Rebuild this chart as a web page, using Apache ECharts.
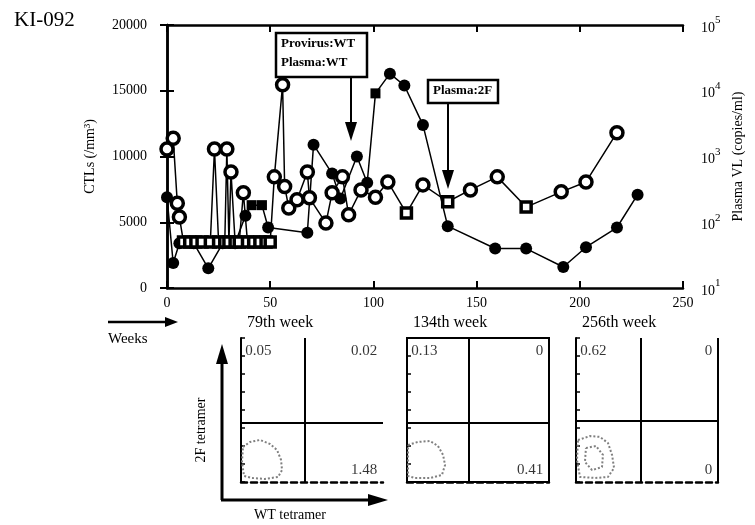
<!DOCTYPE html>
<html>
<head>
<meta charset="utf-8">
<script src="https://cdn.jsdelivr.net/npm/echarts@6/dist/echarts.min.js"></script>
<style>
  html, body { margin: 0; padding: 0; background: #fff; }
  #chart { width: 755px; height: 525px; }
</style>
</head>
<body>
<div id="chart"></div>
<script>
// CTLs (filled symbols, left axis)
var ctlWeeks  = [0, 3, 6, 13, 20, 27, 33, 38, 41, 46, 49, 68, 71, 80, 84, 92, 97, 101, 108, 115, 124, 136, 159, 174, 192, 203, 218, 228]
var ctlValues = [6900, 1900, 3400, 3400, 1500, 3400, 3400, 5500, 6300, 6300, 4600, 4200, 10900, 8700, 6800, 10000, 8000, 14800, 16300, 15400, 12400, 4700, 3000, 3000, 1600, 3100, 4600, 7100]
var ctlSquareWeeks = [41, 46, 101]

// plasma viral load (open symbols, right log axis), 50 = detection limit
var vlWeeks  = [0, 3, 5, 6, 8, 11, 14, 17, 21, 23, 25, 28, 29, 30, 31, 33, 35, 37, 39, 42, 45, 48, 50, 52, 56, 57, 59, 63, 68, 69, 77, 80, 85, 88, 94, 101, 107, 116, 124, 136, 147, 160, 174, 191, 203, 218]
var vlValues = [1300, 1900, 195, 120, 50, 50, 50, 50, 50, 1300, 50, 50, 1300, 50, 580, 50, 50, 280, 50, 50, 50, 50, 50, 490, 12300, 350, 165, 220, 580, 235, 97, 280, 490, 130, 310, 240, 410, 138, 370, 205, 310, 490, 170, 290, 410, 2300]
var vlSquareWeeks = [116, 136, 174]
var detectLimit = 50

var xTicks = [0, 50, 100, 150, 200, 250]

// flow panels
var panelTitles = ['79th week', '134th week', '256th week']
var panelQuad = [[45, 41], [43.7, 41], [45.8, 42.4]]   // quadrant gate (x, y)
var panelPct = [['0.05', '0.02', '1.48'], ['0.13', '0', '0.41'], ['0.62', '0', '0']]
var blob1 = [[1.4,24.3],[6.3,27.8],[13.4,29.2],[20.4,26.4],[25.4,22.2],[28.2,15.3],[28.9,8.3],[26.1,3.5],[16.9,2.1],[7.7,2.8],[2.1,4.2],[0.7,13.9],[1.4,24.3]]
var blob2 = [[0.7,25.7],[7.7,27.8],[16.2,28.5],[21.8,25],[25.4,18.8],[26.8,11.8],[24.6,4.9],[16.2,2.8],[5.6,2.8],[0.7,4.2],[0.7,25.7]]
var blob3 = [[1.4,29.2],[9.9,31.9],[16.9,31.3],[22.5,27.1],[25.4,18.8],[26.8,9.7],[22.5,3.5],[13.4,2.8],[2.8,3.5],[0.7,15.3],[1.4,29.2]]
var blob3b = [[7,23.6],[14.1,25],[19,18.8],[18.3,10.4],[11.3,8.3],[6.3,13.9],[7,23.6]]

var FONT = 'Liberation Serif'
var chart = echarts.init(document.getElementById('chart'))

var ctlData = ctlWeeks.map(function (w, i) {
    var sq = ctlSquareWeeks.indexOf(w) >= 0
    return { value: [w, ctlValues[i]], symbol: sq ? 'rect' : 'circle', symbolSize: sq ? 10 : 12 }
})
var vlData = vlWeeks.map(function (w, i) {
    var low = vlValues[i] <= detectLimit
    var sq = low || vlSquareWeeks.indexOf(w) >= 0
    return { value: [w, vlValues[i]], symbol: sq ? 'rect' : 'circle', symbolSize: low ? 10 : (sq ? 10 : 12) }
})

var panelLeft = [241, 407, 576]
var grids = [{ left: 167, right: 72, top: 25, bottom: 237 }]
var xAxes = [
    {
        gridIndex: 0, type: 'value', min: 0, max: 250, interval: 50,
        axisLine: { lineStyle: { color: '#000', width: 2.5 } },
        axisTick: { inside: true, length: 7, lineStyle: { width: 2, color: '#000' } },
        axisLabel: { color: '#000', fontSize: 14, fontFamily: FONT, margin: 8,
            formatter: function (v) { return xTicks.indexOf(v) >= 0 ? String(v) : '' } },
        splitLine: { show: false }
    },
    {
        gridIndex: 0, type: 'value', position: 'top', min: 0, max: 250, interval: 50,
        axisLine: { lineStyle: { color: '#000', width: 2.5 } },
        axisTick: { inside: true, length: 7, lineStyle: { width: 2, color: '#000' } },
        axisLabel: { show: false }, splitLine: { show: false }
    }
]
var yAxes = [
    {
        gridIndex: 0, type: 'value', min: 0, max: 20000, interval: 5000,
        name: 'CTLs (/mm³)', nameLocation: 'middle', nameRotate: 90, nameGap: 70,
        nameTextStyle: { color: '#000', fontSize: 14, fontFamily: FONT },
        axisLine: { show: true, lineStyle: { color: '#000', width: 2.5 } },
        axisTick: { show: true, inside: true, length: 7, lineStyle: { width: 2, color: '#000' } },
        axisLabel: { color: '#000', fontSize: 14, fontFamily: FONT, margin: 20,
            formatter: function (v) { return String(v) } },
        splitLine: { show: false }
    },
    {
        gridIndex: 0, type: 'log', logBase: 10, min: 10, max: 100000, position: 'right',
        name: 'Plasma VL (copies/ml)', nameLocation: 'middle', nameRotate: 90, nameGap: 48,
        nameTextStyle: { color: '#000', fontSize: 14, fontFamily: FONT },
        axisLine: { show: true, lineStyle: { color: '#000', width: 2.5 } },
        axisTick: { show: true, inside: true, length: 7, lineStyle: { width: 2, color: '#000' } },
        axisLabel: {
            margin: 18, color: '#000',
            formatter: function (v) { return '{b|10}{s|' + Math.round(Math.log10(v)) + '}' },
            rich: {
                b: { fontSize: 14, fontFamily: FONT, color: '#000', verticalAlign: 'bottom' },
                s: { fontSize: 11, fontFamily: FONT, color: '#000', verticalAlign: 'bottom', padding: [0, 0, 9, 0] }
            }
        },
        splitLine: { show: false }, minorTick: { show: false }
    }
]

var series = [
    {
        name: 'CTLs', type: 'line', xAxisIndex: 0, yAxisIndex: 0, data: ctlData,
        lineStyle: { color: '#000', width: 1.5 }, itemStyle: { color: '#000' }, z: 3
    },
    {
        name: 'Plasma VL', type: 'line', xAxisIndex: 0, yAxisIndex: 1, data: vlData,
        lineStyle: { color: '#000', width: 1.5 },
        itemStyle: { color: '#fff', borderColor: '#000', borderWidth: 3.5 }, z: 4
    }
]

var blobs = [[blob1], [blob2], [blob3, blob3b]]
panelLeft.forEach(function (left, p) {
    var gi = p + 1      // grid index
    var ai = p + 2      // axis index (main chart uses 2 x and 2 y axes)
    grids.push({ left: left, width: 142, top: 338, height: 144,
        show: p === 1, borderColor: '#000', borderWidth: 2 })
    xAxes.push({
        gridIndex: gi, type: 'value', min: 0, max: 100,
        axisLine: { lineStyle: { color: '#000', width: 2.5, type: [6, 4] } },
        axisTick: { show: false }, axisLabel: { show: false }, splitLine: { show: false }
    })
    yAxes.push({
        gridIndex: gi, type: 'value', min: 0, max: 100, interval: 12.5,
        axisLine: { show: true, lineStyle: { color: '#000', width: 2 } },
        axisTick: { show: true, inside: true, length: 4, lineStyle: { color: '#000', width: 1.5 } },
        axisLabel: { show: false }, splitLine: { show: false }
    })
    var q = panelQuad[p]
    var gate = [
        [{ coord: [q[0], 0] }, { coord: [q[0], 100] }],
        [{ coord: [0, q[1]] }, { coord: [100, q[1]] }]
    ]
    if (p === 2) gate.push([{ coord: [100, 0] }, { coord: [100, 100] }])
    blobs[p].forEach(function (b, k) {
        series.push({
            type: 'line', xAxisIndex: ai, yAxisIndex: ai, data: b, symbol: 'none', silent: true,
            lineStyle: { color: '#808080', width: 2, type: 'dotted' },
            markLine: k === 0 ? {
                silent: true, symbol: 'none', label: { show: false },
                lineStyle: { color: '#000', width: 2, type: 'solid' }, data: gate
            } : undefined
        })
    })
    var pct = panelPct[p]
    var lbl = function (pos, align, txt) {
        return { value: pos, label: { show: true, position: 'inside', align: align, formatter: txt,
            color: '#000', fontSize: 15, fontFamily: FONT } }
    }
    series.push({
        type: 'scatter', xAxisIndex: ai, yAxisIndex: ai, symbolSize: 0, silent: true,
        data: [lbl([3, 91], 'left', pct[0]), lbl([96, 91], 'right', pct[1]), lbl([96, 8], 'right', pct[2])]
    })
})

var graphics = [
    { type: 'text', left: 14, top: 10, style: { text: 'KI-092', font: '21px "Liberation Serif"', fill: '#000' } },
    // annotation boxes
    { type: 'rect', z: 100, shape: { x: 276, y: 33, width: 91, height: 44 }, style: { fill: '#fff', stroke: '#000', lineWidth: 2.5 } },
    { type: 'text', z: 101, left: 281, top: 37, style: { text: 'Provirus:WT', font: 'bold 13px "Liberation Serif"', fill: '#000' } },
    { type: 'text', z: 101, left: 281, top: 56, style: { text: 'Plasma:WT', font: 'bold 13px "Liberation Serif"', fill: '#000' } },
    { type: 'line', z: 100, shape: { x1: 351, y1: 77, x2: 351, y2: 126 }, style: { stroke: '#000', lineWidth: 2 } },
    { type: 'polygon', z: 100, shape: { points: [[345, 122], [357, 122], [351, 141]] }, style: { fill: '#000' } },
    { type: 'rect', z: 100, shape: { x: 428, y: 80, width: 70, height: 23 }, style: { fill: '#fff', stroke: '#000', lineWidth: 2.5 } },
    { type: 'text', z: 101, left: 433, top: 84, style: { text: 'Plasma:2F', font: 'bold 13px "Liberation Serif"', fill: '#000' } },
    { type: 'line', z: 100, shape: { x1: 448, y1: 103, x2: 448, y2: 174 }, style: { stroke: '#000', lineWidth: 2 } },
    { type: 'polygon', z: 100, shape: { points: [[442, 170], [454, 170], [448, 189]] }, style: { fill: '#000' } },
    // weeks arrow
    { type: 'line', shape: { x1: 108, y1: 322, x2: 168, y2: 322 }, style: { stroke: '#000', lineWidth: 2.5 } },
    { type: 'polygon', shape: { points: [[165, 317], [165, 327], [178, 322]] }, style: { fill: '#000' } },
    { type: 'text', left: 108, top: 332, style: { text: 'Weeks', font: '15px "Liberation Serif"', fill: '#000' } },
    // flow axes arrows
    { type: 'line', shape: { x1: 222, y1: 500, x2: 222, y2: 360 }, style: { stroke: '#000', lineWidth: 3 } },
    { type: 'polygon', shape: { points: [[216, 364], [228, 364], [222, 344]] }, style: { fill: '#000' } },
    { type: 'line', shape: { x1: 221, y1: 500, x2: 372, y2: 500 }, style: { stroke: '#000', lineWidth: 3 } },
    { type: 'polygon', shape: { points: [[368, 494], [368, 506], [388, 500]] }, style: { fill: '#000' } },
    { type: 'text', x: 201, y: 430, rotation: Math.PI / 2, style: { text: '2F tetramer', font: '14px "Liberation Serif"', fill: '#000', align: 'center', verticalAlign: 'middle' } },
    { type: 'text', x: 290, y: 515, style: { text: 'WT tetramer', font: '14px "Liberation Serif"', fill: '#000', align: 'center', verticalAlign: 'middle' } }
]
panelTitles.forEach(function (t, p) {
    graphics.push({ type: 'text', left: panelLeft[p] + 6, top: 315, style: { text: t, font: '16px "Liberation Serif"', fill: '#000' } })
})

chart.setOption({
    animation: false,
    backgroundColor: '#fff',
    grid: grids,
    xAxis: xAxes,
    yAxis: yAxes,
    series: series,
    graphic: graphics
})
</script>
</body>
</html>
